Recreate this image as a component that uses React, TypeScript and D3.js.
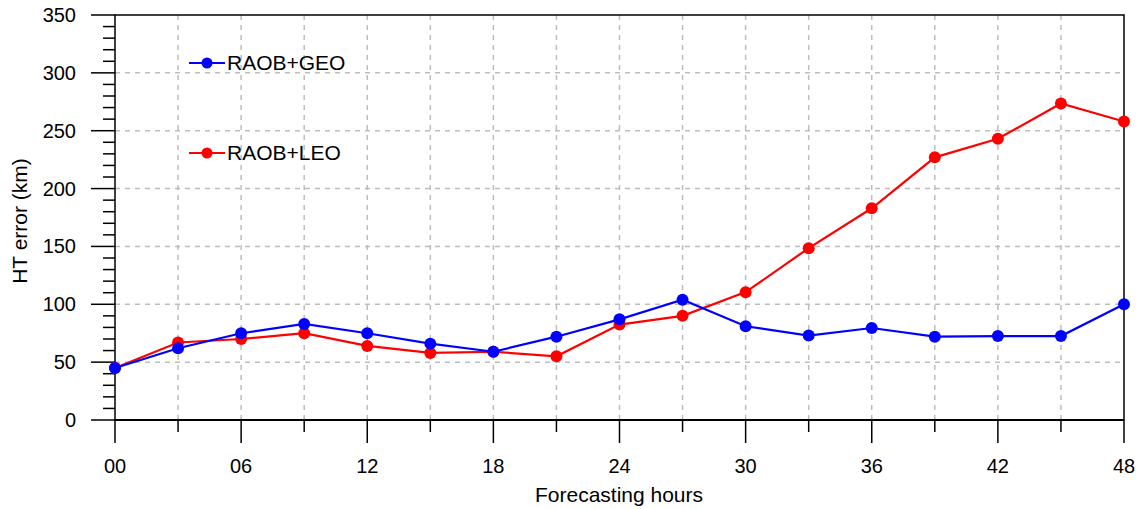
import React, { useEffect, useRef } from 'react';
import * as d3 from 'd3';

const hours = [0, 3, 6, 9, 12, 15, 18, 21, 24, 27, 30, 33, 36, 39, 42, 45, 48];
const geo = [45, 62, 75, 83, 75, 66, 59, 72, 87, 104, 81, 73, 79.5, 72, 72.5, 72.5, 100];
const leo = [45, 67, 70, 75, 64, 58, 59, 55, 82.5, 90, 110.5, 148.5, 183, 227, 243, 273.5, 258];
const xTickLabels = ['00', '06', '12', '18', '24', '30', '36', '42', '48'];
const yTicks = [0, 50, 100, 150, 200, 250, 300, 350];

const series = [
  { name: 'RAOB+LEO', values: leo, color: '#ff0000', legendY: 153 },
  { name: 'RAOB+GEO', values: geo, color: '#0000ff', legendY: 63 },
];

const W = 1141;
const H = 509;
const left = 115, right = 1124, top = 15, bottom = 420;
const FONT = '"Liberation Sans", Arial, Helvetica, sans-serif';

const App = () => {
  const svgRef = useRef(null);

  useEffect(() => {
    document.body.style.margin = '0';
    const svg = d3.select(svgRef.current);
    svg.selectAll('*').remove();

    const x = d3.scaleLinear().domain([0, 48]).range([left, right]);
    const y = d3.scaleLinear().domain([0, 350]).range([bottom, top]);

    // grid
    const grid = svg.append('g')
      .style('stroke', '#bdbdbd')
      .style('stroke-width', 1.5)
      .style('stroke-dasharray', '5,5');
    grid.selectAll('.vg')
      .data(hours.filter(h => h > 0 && h < 48))
      .enter().append('line')
      .attr('x1', d => x(d)).attr('x2', d => x(d))
      .attr('y1', top).attr('y2', bottom);
    grid.selectAll('.hg')
      .data(yTicks.filter(v => v > 0 && v < 350))
      .enter().append('line')
      .attr('x1', left).attr('x2', right)
      .attr('y1', d => y(d)).attr('y2', d => y(d));

    // frame
    svg.append('rect')
      .attr('x', left).attr('y', top)
      .attr('width', right - left).attr('height', bottom - top)
      .style('fill', 'none').style('stroke', '#000').style('stroke-width', 1.5);
    svg.append('line')
      .attr('x1', left).attr('x2', right).attr('y1', bottom).attr('y2', bottom)
      .style('stroke', '#000').style('stroke-width', 2);

    // y ticks
    const yt = svg.append('g').style('stroke', '#000').style('stroke-width', 1.5);
    yt.selectAll('.ymin')
      .data(d3.range(0, 351, 10))
      .enter().append('line')
      .attr('x1', d => (d % 50 === 0 ? left - 24 : left - 12)).attr('x2', left)
      .attr('y1', d => y(d)).attr('y2', d => y(d));
    svg.selectAll('.ylab')
      .data(yTicks)
      .enter().append('text')
      .attr('x', 76).attr('y', d => y(d) + 7)
      .attr('text-anchor', 'end')
      .style('font-family', FONT).style('font-size', '20px')
      .text(d => d);

    // x ticks
    const xt = svg.append('g').style('stroke', '#000').style('stroke-width', 1.5);
    xt.selectAll('.xtick')
      .data(hours)
      .enter().append('line')
      .attr('x1', d => x(d)).attr('x2', d => x(d))
      .attr('y1', bottom).attr('y2', d => (d % 6 === 0 ? bottom + 23 : bottom + 12));
    svg.selectAll('.xlab')
      .data(xTickLabels)
      .enter().append('text')
      .attr('x', d => x(+d)).attr('y', 473)
      .attr('text-anchor', 'middle')
      .style('font-family', FONT).style('font-size', '20px')
      .text(d => d);

    // axis titles
    svg.append('text')
      .attr('x', 619).attr('y', 502)
      .attr('text-anchor', 'middle')
      .style('font-family', FONT).style('font-size', '21px')
      .text('Forecasting hours');
    svg.append('text')
      .attr('transform', `translate(27,221) rotate(-90)`)
      .attr('text-anchor', 'middle')
      .style('font-family', FONT).style('font-size', '21px')
      .text('HT error (km)');

    // series
    const line = d3.line().x((d, i) => x(hours[i])).y(d => y(d));
    series.forEach(s => {
      const g = svg.append('g');
      g.append('path')
        .attr('d', line(s.values))
        .style('fill', 'none').style('stroke', s.color).style('stroke-width', 2.2);
      g.selectAll('circle')
        .data(s.values)
        .enter().append('circle')
        .attr('cx', (d, i) => x(hours[i])).attr('cy', d => y(d))
        .attr('r', 6)
        .style('fill', s.color);

      // legend
      g.append('line')
        .attr('x1', 189).attr('x2', 225).attr('y1', s.legendY).attr('y2', s.legendY)
        .style('stroke', s.color).style('stroke-width', 2.2);
      g.append('circle')
        .attr('cx', 207).attr('cy', s.legendY).attr('r', 5.5)
        .style('fill', s.color);
      g.append('text')
        .attr('x', 227).attr('y', s.legendY + 7)
        .style('font-family', FONT).style('font-size', '21px')
        .text(s.name);
    });
  }, []);

  return <svg ref={svgRef} width={W} height={H} style={{ display: 'block', background: '#fff' }}></svg>;
};

export default App;
